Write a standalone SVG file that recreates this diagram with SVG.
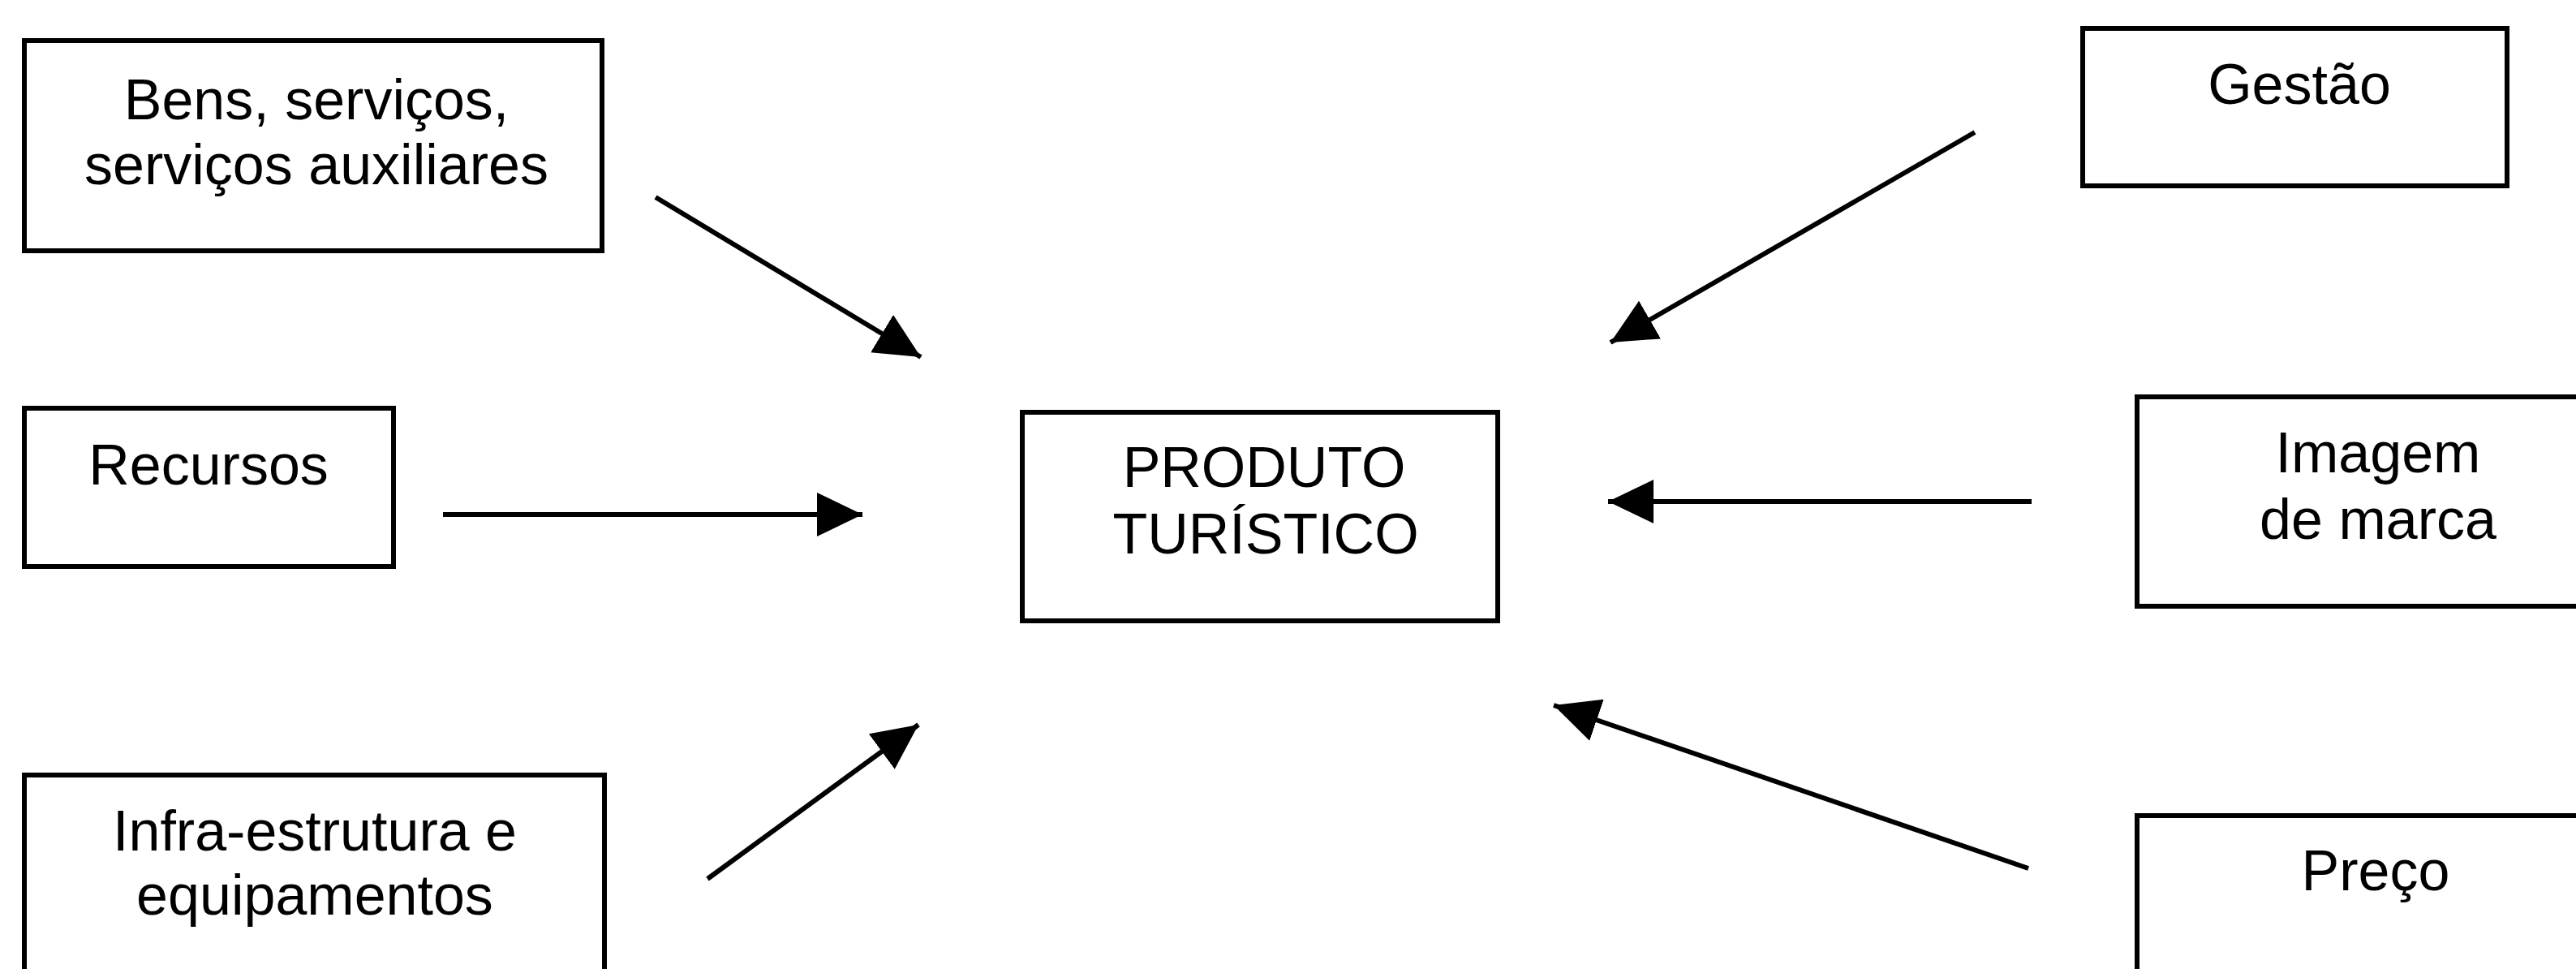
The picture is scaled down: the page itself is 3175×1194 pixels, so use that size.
<svg xmlns="http://www.w3.org/2000/svg" width="3175" height="1194" viewBox="0 0 3175 1194">
<style>
.box{fill:#fff;stroke:#000;stroke-width:6}
.lbl{font-family:"Liberation Sans",Arial,sans-serif;font-size:70px;fill:#000;text-anchor:middle}
.conn{stroke:#000;stroke-width:6;fill:none}
</style>
<defs>
<marker id="ah" markerUnits="userSpaceOnUse" markerWidth="58" markerHeight="56" refX="56" refY="27" orient="auto">
<path d="M0,0 L56,27 L0,54 z" fill="#000"/>
</marker>
</defs>
<rect width="3175" height="1194" fill="#fff"/>
<g id="bens">
<rect class="box" x="30" y="50" width="712" height="259"/>
<text class="lbl" x="390" y="147">Bens, serviços,</text>
<text class="lbl" x="390" y="227">serviços auxiliares</text>
</g>
<g id="recursos">
<rect class="box" x="30" y="503" width="455" height="195"/>
<text class="lbl" x="257" y="597">Recursos</text>
</g>
<g id="infra">
<rect class="box" x="30" y="955" width="715" height="260"/>
<text class="lbl" x="388" y="1048">Infra-estrutura e</text>
<text class="lbl" x="388" y="1127">equipamentos</text>
</g>
<g id="produto">
<rect class="box" x="1260" y="508" width="586" height="257"/>
<text class="lbl" x="1558" y="600">PRODUTO</text>
<text class="lbl" x="1560" y="682">TURÍSTICO</text>
</g>
<g id="gestao">
<rect class="box" x="2567" y="35" width="523" height="194"/>
<text class="lbl" x="2834" y="128">Gestão</text>
</g>
<g id="imagem">
<rect class="box" x="2634" y="489" width="600" height="258"/>
<text class="lbl" x="2931" y="582">Imagem</text>
<text class="lbl" x="2931" y="664">de marca</text>
</g>
<g id="preco">
<rect class="box" x="2634" y="1005" width="600" height="260"/>
<text class="lbl" x="2928" y="1097">Preço</text>
</g>
<g id="connectors">
<line class="conn" x1="808" y1="243" x2="1135" y2="440" marker-end="url(#ah)"/>
<line class="conn" x1="546" y1="634" x2="1063" y2="634" marker-end="url(#ah)"/>
<line class="conn" x1="872" y1="1083" x2="1132" y2="893" marker-end="url(#ah)"/>
<line class="conn" x1="2434" y1="163" x2="1985" y2="422" marker-end="url(#ah)"/>
<line class="conn" x1="2504" y1="618" x2="1982" y2="618" marker-end="url(#ah)"/>
<line class="conn" x1="2500" y1="1070" x2="1915" y2="869" marker-end="url(#ah)"/>
</g>
</svg>
